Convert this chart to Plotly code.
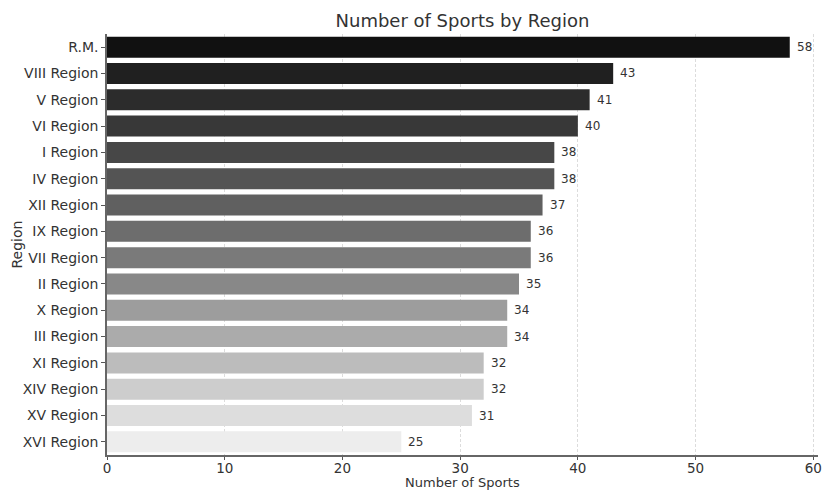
import plotly.graph_objects as go

regions = ["R.M.", "VIII Region", "V Region", "VI Region", "I Region", "IV Region",
           "XII Region", "IX Region", "VII Region", "II Region", "X Region", "III Region",
           "XI Region", "XIV Region", "XV Region", "XVI Region"]
sports = [58, 43, 41, 40, 38, 38, 37, 36, 36, 35, 34, 34, 32, 32, 31, 25]
bar_colors = ["#111111", "#202020", "#2c2c2c", "#383838", "#474747", "#545454",
              "#606060", "#6d6d6d", "#7a7a7a", "#888888", "#9d9d9d", "#ababab",
              "#bcbcbc", "#cdcdcd", "#dddddd", "#ededed"]
x_ticks = [0, 10, 20, 30, 40, 50, 60]

font_family = "DejaVu Sans, Liberation Sans, sans-serif"

fig = go.Figure()
fig.add_trace(go.Bar(
    x=sports, y=regions, orientation="h",
    marker=dict(color=bar_colors, line=dict(width=0)),
    width=0.8,
))

for r, v in zip(regions, sports):
    fig.add_annotation(x=v, y=r, text=str(v), showarrow=False, xanchor="left",
                       xshift=5, font=dict(size=12, color="#333333", family=font_family))

# axis titles
fig.add_annotation(x=0.5, y=0, xref="paper", yref="paper", text="Number of Sports",
                   showarrow=False, xanchor="center", yanchor="bottom", yshift=-36,
                   borderpad=0,
                   font=dict(size=13, color="#333333", family=font_family))
fig.add_annotation(x=0, y=0.5, xref="paper", yref="paper", text="Region",
                   showarrow=False, xanchor="center", yanchor="middle", xshift=-91,
                   textangle=-90,
                   font=dict(size=14, color="#333333", family=font_family))

fig.update_layout(
    width=823, height=491,
    margin=dict(l=107, r=5, t=34, b=36),
    paper_bgcolor="white", plot_bgcolor="white",
    showlegend=False,
    font=dict(family=font_family, color="#333333"),
    title=dict(text="Number of Sports by Region", x=0.5, xref="paper", xanchor="center",
               y=0.958, yref="container", yanchor="middle",
               font=dict(size=18, color="#333333", family=font_family)),
    bargap=0.2,
)
fig.update_xaxes(
    automargin=False,
    range=[0, 60.4], tickvals=x_ticks, ticks="outside", ticklen=3, tickwidth=1,
    tickcolor="#555555", showline=True, linecolor="#666666", linewidth=2,
    showgrid=True, gridcolor="#dcdcdc", griddash="3px,2px", gridwidth=1,
    zeroline=False, tickfont=dict(size=13.5, color="#333333"), ticklabelstandoff=-3,
)
fig.update_yaxes(
    automargin=False,
    categoryorder="array", categoryarray=regions, range=[15.5, -0.5],
    ticks="outside", ticklen=4, tickwidth=1, tickcolor="#555555",
    showline=True, linecolor="#666666", linewidth=1.5, showgrid=False,
    tickfont=dict(size=14, color="#333333"),
)

fig.write_html("out.html")
